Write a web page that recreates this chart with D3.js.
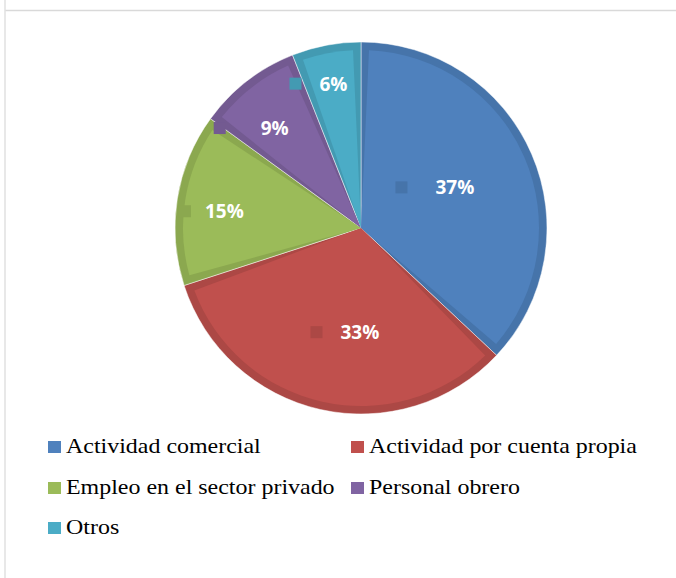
<!DOCTYPE html>
<html><head><meta charset="utf-8">
<script src="https://cdn.jsdelivr.net/npm/d3@7"></script>
<style>body{margin:0;background:#fff;}svg{display:block;}</style>
</head><body>
<svg id="chart" width="676" height="578"></svg>
<script>
const categories = ["Actividad comercial","Actividad por cuenta propia","Empleo en el sector privado","Personal obrero","Otros"];
const values = [37, 33, 15, 9, 6];
const labels = ["37%","33%","15%","9%","6%"];
const colors = ["#4F81BD","#C0504D","#9BBB59","#8064A2","#4BACC6"];
const edgeColors = ["#4674AA","#AC4845","#8BA84F","#735A91","#439AB2"];
// label layout: radius fraction, angle nudge (degrees), marker gap (px)
const labelRadius = [0.55, 0.56, 0.74, 0.71, 0.79];
const labelNudge = [0, -12, -2, -3, 0];
const markerGap = [28, 18, 14, 35, 18];

const svg = d3.select("#chart");
svg.append("line").attr("x1",5).attr("x2",676).attr("y1",10.5).attr("y2",10.5).attr("stroke","#d9d9d9").attr("stroke-width",1.5);
svg.append("line").attr("x1",5).attr("x2",5).attr("y1",0).attr("y2",578).attr("stroke","#e0e0e0").attr("stroke-width",1.5);

const cx = 361, cy = 228, R = 186;
const pie = d3.pie().sort(null).value(d => d)(values);
const g = svg.append("g").attr("transform",`translate(${cx},${cy})`);
const outer = d3.arc().innerRadius(0).outerRadius(R);
const inner = d3.arc().innerRadius(0).outerRadius(R-8).padRadius(100).padAngle(0.16);

g.selectAll("path.o").data(pie).join("path").attr("class","o")
  .attr("d",outer).attr("fill",(d,i)=>edgeColors[i])
  .attr("stroke","#ffffff").attr("stroke-opacity",0.6).attr("stroke-width",0.8);
g.selectAll("path.i").data(pie).join("path").attr("class","i")
  .attr("d",inner).attr("fill",(d,i)=>colors[i]);

pie.forEach((d,i)=>{
  const a = (d.startAngle + d.endAngle)/2 + labelNudge[i]*Math.PI/180;
  const r = R*labelRadius[i];
  const x = Math.sin(a)*r, y = -Math.cos(a)*r;
  const t = g.append("text").attr("x",x).attr("y",y).attr("dy","0.36em")
    .attr("text-anchor","middle")
    .style("font-family",'"Open Sans", Lato, sans-serif').style("font-weight","bold")
    .style("font-size","19px").style("fill","#fff").text(labels[i]);
  const w = t.node().getComputedTextLength();
  g.append("rect").attr("x",x - w/2 - markerGap[i] - 12).attr("y",y-6).attr("width",12).attr("height",12)
    .attr("fill",edgeColors[i]);
});

const legendPos = [[48,453],[351,453],[48,494],[351,494],[48,534]];
categories.forEach((c,i)=>{
  const [x,y] = legendPos[i];
  svg.append("rect").attr("x",x).attr("y",y-12).attr("width",13).attr("height",12).attr("fill",colors[i]);
  const t = svg.append("text").attr("x",x+18).attr("y",y)
    .style("font-family",'"Liberation Serif", "Times New Roman", serif')
    .style("font-size","21px").style("fill","#000").text(c);
  const w = t.node().getComputedTextLength();
  t.attr("textLength", w*1.14).attr("lengthAdjust","spacingAndGlyphs");
});
</script>
</body></html>
